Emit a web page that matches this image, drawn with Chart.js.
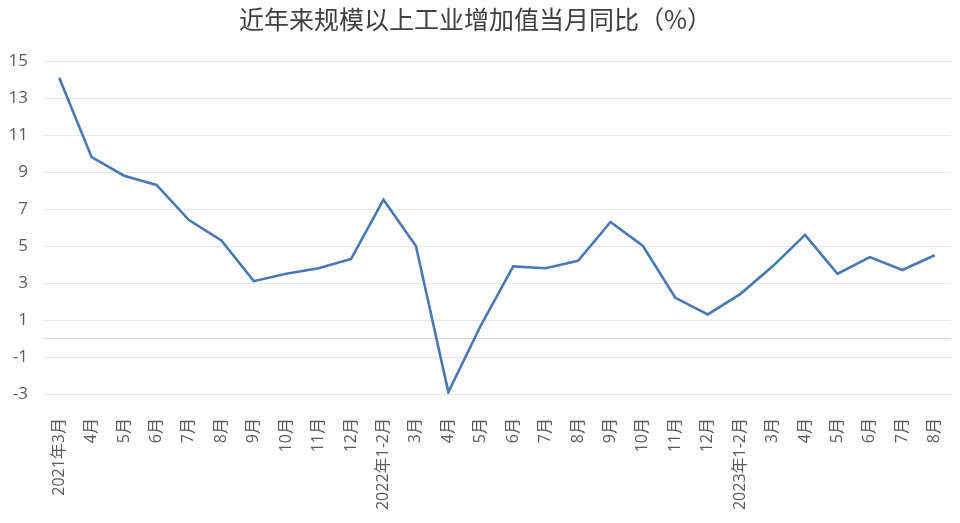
<!DOCTYPE html>
<html>
<head>
<meta charset="utf-8">
<script src="https://cdn.jsdelivr.net/npm/chart.js@4/dist/chart.umd.min.js"></script>
<style>
html,body{margin:0;padding:0;background:#fff;}
#wrap{width:960px;height:523px;position:relative;}
</style>
</head>
<body>
<div id="wrap"><canvas id="c"></canvas></div>
<script>
const categories = ["2021年3月","4月","5月","6月","7月","8月","9月","10月","11月","12月",
  "2022年1-2月","3月","4月","5月","6月","7月","8月","9月","10月","11月","12月",
  "2023年1-2月","3月","4月","5月","6月","7月","8月"];
const values = [14.1,9.8,8.8,8.3,6.4,5.3,3.1,3.5,3.8,4.3,
  7.5,5.0,-2.9,0.7,3.9,3.8,4.2,6.3,5.0,2.2,1.3,
  2.4,3.9,5.6,3.5,4.4,3.7,4.5];
const yTicks = [-3,-1,1,3,5,7,9,11,13,15];
const titleText = "近年来规模以上工业增加值当月同比（%）";

new Chart(document.getElementById('c'), {
  type: 'line',
  data: {
    labels: categories,
    datasets: [{
      data: values,
      borderColor: '#4a78b0',
      borderWidth: 2.6,
      pointRadius: 0,
      tension: 0,
      fill: false
    }]
  },
  options: {
    responsive: true,
    maintainAspectRatio: false,
    animation: false,
    layout: { padding: { left: 0, right: 9, top: 0, bottom: 0 } },
    plugins: {
      legend: { display: false },
      tooltip: { enabled: false },
      title: {
        display: true,
        text: titleText,
        color: '#404040',
        font: { family: '"Noto Sans CJK SC", sans-serif', size: 25, weight: 'normal' },
        padding: { top: 4, bottom: 27 }
      }
    },
    scales: {
      x: {
        offset: true,
        grid: { display: false },
        border: { display: false },
        ticks: {
          color: '#5a5a5a',
          font: { family: '"Open Sans", "Noto Sans CJK SC", sans-serif', size: 16 },
          maxRotation: 90, minRotation: 90,
          autoSkip: false,
          padding: 16
        },
        afterFit: s => { s.height = 129; s.paddingRight = 0; s.paddingLeft = 0; }
      },
      y: {
        min: -3, max: 15,
        afterBuildTicks: s => { s.ticks = yTicks.map(v => ({ value: v })); },
        grid: {
          color: '#e6e6e6',
          lineWidth: 1,
          drawTicks: false
        },
        border: { display: false },
        ticks: {
          color: '#5a5a5a',
          font: { family: '"Open Sans", sans-serif', size: 17 },
          padding: 15
        },
        afterFit: s => { s.width = 43; }
      }
    }
  },
  plugins: [{
    id: 'zeroLine',
    beforeDatasetsDraw(chart) {
      const { ctx, chartArea, scales } = chart;
      const y = scales.y.getPixelForValue(0);
      ctx.save();
      ctx.strokeStyle = '#d9d9d9';
      ctx.lineWidth = 1.2;
      ctx.beginPath();
      ctx.moveTo(chartArea.left, y);
      ctx.lineTo(chartArea.right, y);
      ctx.stroke();
      ctx.restore();
    }
  }]
});
</script>
</body>
</html>
